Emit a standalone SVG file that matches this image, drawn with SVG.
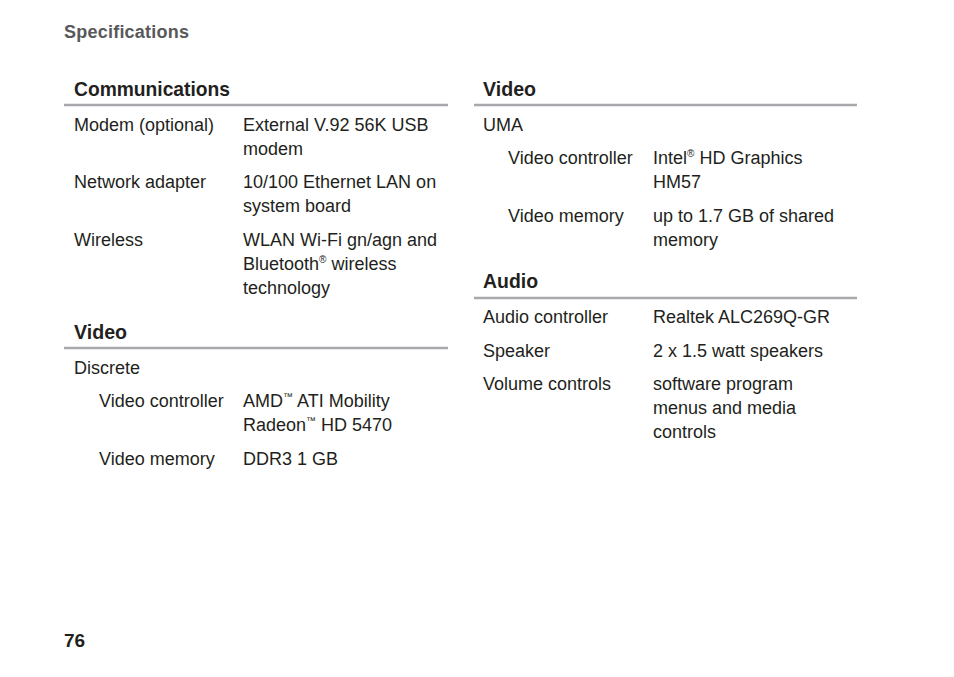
<svg xmlns="http://www.w3.org/2000/svg" width="954" height="677" viewBox="0 0 954 677">
<style>
text{font-family:"Liberation Sans",Arial,sans-serif;fill:#231f20}
.t{font-size:18px}
.h{font-size:21px;font-weight:bold}
.s{font-size:10px}
.r{stroke:#a7a9ac;stroke-width:2.5}
</style>
<rect width="954" height="677" fill="#fff"/>
<text x="64" y="38" textLength="125" style="font-size:18px;font-weight:bold;fill:#58595b">Specifications</text>
<text class="h" x="74" y="96" textLength="156" lengthAdjust="spacingAndGlyphs">Communications</text>
<line class="r" x1="64" y1="105" x2="448" y2="105"/>
<text class="t" x="74" y="131">Modem (optional)</text>
<text class="t" x="243" y="131">External V.92 56K USB</text>
<text class="t" x="243" y="155">modem</text>
<text class="t" x="74" y="188">Network adapter</text>
<text class="t" x="243" y="188">10/100 Ethernet LAN on</text>
<text class="t" x="243" y="212">system board</text>
<text class="t" x="74" y="246">Wireless</text>
<text class="t" x="243" y="246">WLAN Wi-Fi gn/agn and</text>
<text class="t" x="243" y="270">Bluetooth<tspan class="s" dy="-7">®</tspan><tspan dy="7"> wireless</tspan></text>
<text class="t" x="243" y="294">technology</text>
<text class="h" x="74" y="339" textLength="53" lengthAdjust="spacingAndGlyphs">Video</text>
<line class="r" x1="64" y1="348" x2="448" y2="348"/>
<text class="t" x="74" y="374">Discrete</text>
<text class="t" x="99" y="407">Video controller</text>
<text class="t" x="243" y="407">AMD<tspan class="s" dy="-7">™</tspan><tspan dy="7"> ATI Mobility</tspan></text>
<text class="t" x="243" y="431">Radeon<tspan class="s" dy="-7">™</tspan><tspan dy="7"> HD 5470</tspan></text>
<text class="t" x="99" y="465">Video memory</text>
<text class="t" x="243" y="465">DDR3 1 GB</text>
<text class="h" x="483" y="96" textLength="53" lengthAdjust="spacingAndGlyphs">Video</text>
<line class="r" x1="474" y1="105" x2="857" y2="105"/>
<text class="t" x="483" y="131">UMA</text>
<text class="t" x="508" y="164">Video controller</text>
<text class="t" x="653" y="164">Intel<tspan class="s" dy="-7">®</tspan><tspan dy="7"> HD Graphics</tspan></text>
<text class="t" x="653" y="188">HM57</text>
<text class="t" x="508" y="222">Video memory</text>
<text class="t" x="653" y="222">up to 1.7 GB of shared</text>
<text class="t" x="653" y="246">memory</text>
<text class="h" x="483" y="288" textLength="55" lengthAdjust="spacingAndGlyphs">Audio</text>
<line class="r" x1="474" y1="298" x2="857" y2="298"/>
<text class="t" x="483" y="323">Audio controller</text>
<text class="t" x="653" y="323">Realtek ALC269Q-GR</text>
<text class="t" x="483" y="357">Speaker</text>
<text class="t" x="653" y="357">2 x 1.5 watt speakers</text>
<text class="t" x="483" y="390">Volume controls</text>
<text class="t" x="653" y="390">software program</text>
<text class="t" x="653" y="414">menus and media</text>
<text class="t" x="653" y="438">controls</text>
<text x="64" y="647" style="font-size:19px;font-weight:bold">76</text>
</svg>
